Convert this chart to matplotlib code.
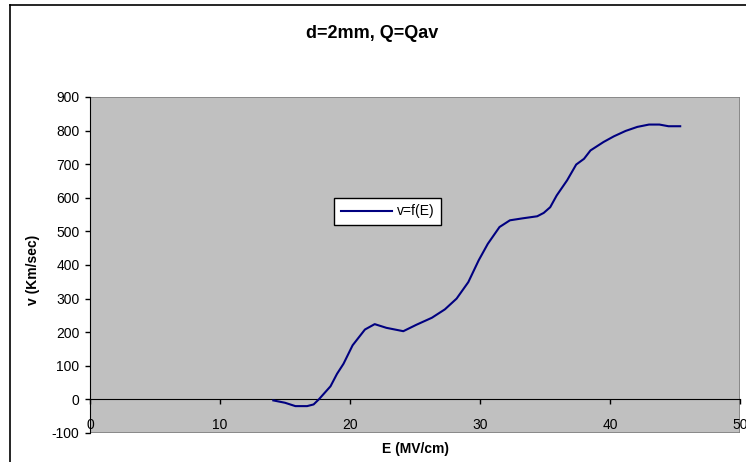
import matplotlib
matplotlib.use("Agg")
import matplotlib.pyplot as plt
from matplotlib.patches import Rectangle
from matplotlib.lines import Line2D

plt.rcParams['font.family'] = ['Liberation Sans', 'DejaVu Sans']
plt.rcParams['axes.unicode_minus'] = False

# Data
E = [14.1, 15.0, 15.8, 16.7, 17.2, 17.6, 18.5, 19.0, 19.5, 20.2, 21.15, 21.9,
     22.8, 24.1, 25.1, 26.3, 27.3, 28.2, 29.1, 29.9, 30.6, 31.5, 32.3, 33.3,
     34.4, 34.9, 35.4, 35.9, 36.7, 37.4, 38.0, 38.5, 39.5, 40.3, 41.2, 42.1,
     43.0, 43.8, 44.5, 45.4]
v = [-3, -10, -20, -20, -15, 0, 39, 76, 106, 161, 208, 224,
     213, 203, 222, 243, 268, 300, 349, 414, 463, 513, 533, 539,
     545, 555, 572, 607, 652, 699, 716, 741, 766, 783, 799, 811,
     818, 818, 813, 813]

title = "d=2mm, Q=Qav"
xlabel = "E (MV/cm)"
ylabel = "v (Km/sec)"
series_name = "v=f(E)"
xticks = [0, 10, 20, 30, 40, 50]
yticks = list(range(-100, 1000, 100))

W, H = 746, 462
fig = plt.figure(figsize=(W / 100, H / 100), dpi=100)
fig.patch.set_facecolor('white')

l, r, t, b = 90, 740, 97, 433
ax = fig.add_axes([l / W, 1 - b / H, (r - l) / W, (b - t) / H])
ax.patch.set_visible(False)
ax.add_patch(Rectangle((0, 0), 1, 1, transform=ax.transAxes, facecolor='#C0C0C0',
                       edgecolor='#808080', linewidth=1.2, zorder=0))

ax.plot(E, v, color='#000080', linewidth=1.5, label=series_name, zorder=3)

ax.set_xlim(0, 50)
ax.set_ylim(-100, 900)
ax.set_xticks(xticks)
ax.set_yticks(yticks)
ax.spines['top'].set_visible(False)
ax.spines['right'].set_visible(False)
ax.spines['bottom'].set_position(('data', 0))
ax.spines['bottom'].set_zorder(2)
ax.spines['left'].set_color('black')
ax.tick_params(axis='both', direction='out', length=3.5, width=1, labelsize=10, colors='black')
ax.tick_params(axis='x', pad=10)
ax.tick_params(axis='y', pad=4)

fig.text(372 / W, 1 - 34 / H, title, ha='center', va='center', fontsize=13, fontweight='bold')
fig.text(415 / W, 1 - 449 / H, xlabel, ha='center', va='center', fontsize=10, fontweight='bold')
fig.text(33 / W, 1 - 270 / H, ylabel, ha='center', va='center', fontsize=10,
         fontweight='bold', rotation=90)

leg = ax.legend(loc='center', bbox_to_anchor=(387.5 / W, 1 - 211.5 / H),
                bbox_transform=fig.transFigure, fancybox=False, framealpha=1,
                edgecolor='black', fontsize=10, borderpad=0.5, handlelength=3.7,
                handletextpad=0.3, borderaxespad=0)
leg.get_frame().set_linewidth(1)

x0 = 10 / W
y1 = 1 - 5 / H
fig.add_artist(Line2D([x0, x0], [0, y1], color='black', linewidth=1.2, transform=fig.transFigure))
fig.add_artist(Line2D([x0, 1], [y1, y1], color='black', linewidth=1.2, transform=fig.transFigure))

fig.savefig('out.png', dpi=100)
